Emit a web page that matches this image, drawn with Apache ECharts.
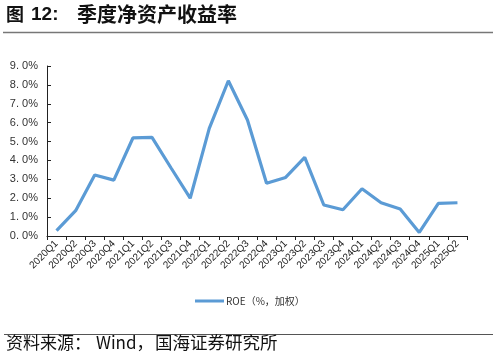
<!DOCTYPE html>
<html>
<head>
<meta charset="utf-8">
<script src="https://cdn.jsdelivr.net/npm/echarts@6/dist/echarts.min.js"></script>
<style>html,body{margin:0;padding:0;background:#fff;}#c{width:498px;height:362px;}</style>
</head>
<body>
<div id="c"></div>
<script>
const categories = ['2020Q1','2020Q2','2020Q3','2020Q4','2021Q1','2021Q2','2021Q3','2021Q4','2022Q1','2022Q2','2022Q3','2022Q4','2023Q1','2023Q2','2023Q3','2023Q4','2024Q1','2024Q2','2024Q3','2024Q4','2025Q1','2025Q2'];
const roe = [0.28,1.34,3.23,2.96,5.19,5.22,3.6,2.0,5.7,8.22,6.14,2.79,3.1,4.16,1.64,1.39,2.5,1.76,1.43,0.19,1.73,1.76];
const seriesName = 'ROE（%，加权）';
const titlePrefix = '图';
const titleNumber = '12:';
const titleText = '季度净资产收益率';
const sourceLabel = '资料来源：';
const sourceWind = 'Wind，';
const sourceOrg = '国海证券研究所';

const chart = echarts.init(document.getElementById('c'));
chart.setOption({
  animation: false,
  backgroundColor: '#fff',
  grid: { left: 47, right: 31, top: 66, bottom: 126 },
  legend: {
    data: [seriesName],
    top: 291,
    left: 190,
    itemWidth: 29,
    itemHeight: 3,
    itemGap: 2,
    icon: 'rect',
    textStyle: { fontSize: 10, color: '#333', fontFamily: 'Noto Sans CJK SC', padding: [0, 0, 0, -3] }
  },
  xAxis: {
    type: 'category',
    data: categories,
    boundaryGap: true,
    axisLine: { lineStyle: { color: '#222', width: 1 } },
    axisTick: { show: true, length: 4, inside: false, lineStyle: { color: '#222' } },
    axisLabel: { rotate: 45, fontSize: 10, color: '#222', margin: 6, interval: 0, fontFamily: 'Liberation Sans Narrow, Arial' }
  },
  yAxis: {
    type: 'value',
    min: 0, max: 9, interval: 1,
    axisLine: { show: true, lineStyle: { color: '#222', width: 1 } },
    axisTick: { show: true, inside: true, length: 4, lineStyle: { color: '#222' } },
    splitLine: { show: false },
    axisLabel: { fontSize: 11, color: '#333', margin: 9, formatter: v => v.toFixed(1).replace('.', '. ') + '%' }
  },
  series: [{
    name: seriesName,
    type: 'line',
    data: roe,
    symbol: 'none',
    lineStyle: { color: '#5B9BD5', width: 3.2 },
    itemStyle: { color: '#5B9BD5' }
  }],
  graphic: [
    { type: 'text', left: 6, top: 5, style: { text: titlePrefix, font: 'bold 18px "Noto Sans CJK SC"', fill: '#111' } },
    { type: 'text', left: 31, top: 5, style: { text: titleNumber, font: 'bold 19px "Liberation Sans", Arial', fill: '#111' } },
    { type: 'text', left: 77, top: 4, style: { text: titleText, font: 'bold 20px "Noto Sans CJK SC"', fill: '#111' } },
    { type: 'line', shape: { x1: 3, y1: 32.5, x2: 493, y2: 32.5 }, style: { stroke: '#777', lineWidth: 1.5 } },
    { type: 'line', shape: { x1: 4, y1: 334.5, x2: 493, y2: 334.5 }, style: { stroke: '#555', lineWidth: 1 } },
    { type: 'text', left: 6, top: 334, style: { text: sourceLabel, font: '17px "Noto Sans CJK SC"', fill: '#111' } },
    { type: 'text', left: 96, top: 334, style: { text: sourceWind, font: '17px "Noto Sans CJK SC"', fill: '#111' } },
    { type: 'text', left: 155, top: 334, style: { text: sourceOrg, font: '17.5px "Noto Sans CJK SC"', fill: '#111' } }
  ]
});
</script>
</body>
</html>
